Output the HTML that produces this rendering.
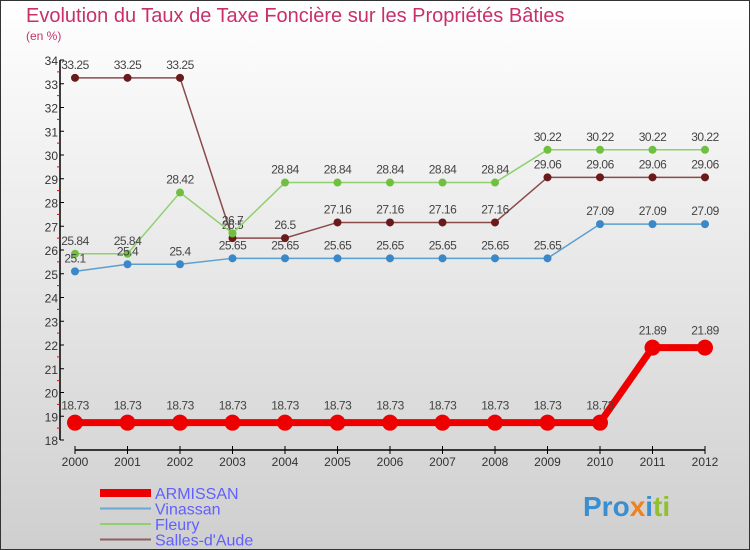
<!DOCTYPE html>
<html><head><meta charset="utf-8"><style>
html,body{margin:0;padding:0}
body{width:750px;height:550px;overflow:hidden;font-family:"Liberation Sans",sans-serif}
svg{display:block}
</style></head><body>
<svg id="c" width="750" height="550" xmlns="http://www.w3.org/2000/svg">
<defs>
<linearGradient id="bg" x1="0" y1="0" x2="0" y2="1"><stop offset="0" stop-color="#ffffff"/><stop offset="1" stop-color="#cfcfcf"/></linearGradient>
</defs>
<rect x="0.5" y="0.5" width="749" height="549" fill="url(#bg)" stroke="#333"/>
<text x="26" y="22" font-size="20" fill="#c8306a">Evolution du Taux de Taxe Foncière sur les Propriétés Bâties</text>
<text x="26" y="40" font-size="12" fill="#c8306a">(en %)</text>
<g id="axes"></g>
<g id="series"></g>
<g id="legend"></g>
<text x="583" y="516" font-size="28" font-weight="bold" fill="#3a8fd0">Pro<tspan fill="#f08020">x</tspan><tspan fill="#3a8fd0">i</tspan><tspan fill="#90c030">ti</tspan></text>
</svg>
<script>
const years = [2000,2001,2002,2003,2004,2005,2006,2007,2008,2009,2010,2011,2012];
const armissan = [18.73,18.73,18.73,18.73,18.73,18.73,18.73,18.73,18.73,18.73,18.73,21.89,21.89];
const vinassan = [25.1,25.4,25.4,25.65,25.65,25.65,25.65,25.65,25.65,25.65,27.09,27.09,27.09];
const fleury = [25.84,25.84,28.42,26.7,28.84,28.84,28.84,28.84,28.84,30.22,30.22,30.22,30.22];
const salles = [33.25,33.25,33.25,26.5,26.5,27.16,27.16,27.16,27.16,29.06,29.06,29.06,29.06];
const yTicks = [18,19,20,21,22,23,24,25,26,27,28,29,30,31,32,33,34];
const seriesNames = ["ARMISSAN","Vinassan","Fleury","Salles-d'Aude"];

const NS="http://www.w3.org/2000/svg";
const X0=75, XSTEP=52.5, Y0=440, YUNIT=23.75, YMIN=18;
const xs=i=>X0+i*XSTEP;
const ys=v=>Y0-(v-YMIN)*YUNIT;
function mk(tag,attrs,parent){const e=document.createElementNS(NS,tag);for(const k in attrs)e.setAttribute(k,attrs[k]);parent.appendChild(e);return e;}
const axes=document.getElementById('axes');
const yAxis=mk('line',{x1:60,y1:ys(34),x2:60,y2:Y0,stroke:'#000','stroke-width':1.5},axes);


yTicks.forEach(t=>{
  const tk=mk('line',{x1:60,x2:64,y1:ys(t),y2:ys(t),stroke:'#000'},axes);
  
  
  if(t<34){const m=mk('line',{x1:57,x2:60,y1:ys(t+0.5),y2:ys(t+0.5),stroke:'#e00'},axes);
    
    }
  const tx=mk('text',{x:58,y:ys(t)+5,'font-size':12,fill:'#333','text-anchor':'end'},axes);
  tx.textContent=t;
  
  
});
const xAxis=mk('line',{x1:xs(0),y1:450,x2:xs(years.length-1),y2:450,stroke:'#000','stroke-width':1.5},axes);


years.forEach((yr,i)=>{
  const tk=mk('line',{x1:xs(i),x2:xs(i),y1:446,y2:454,stroke:'#000'},axes);
  
  
  const tx=mk('text',{x:xs(i),y:466,'font-size':12,fill:'#333','text-anchor':'middle'},axes);
  tx.textContent=yr;
  
  
});
const sg=document.getElementById('series');
const defs=[
 {data:salles,line:'#8a4a4a',pt:'#6a1a1a',w:1.5,r:4,name:'salles-d-aude'},
 {data:fleury,line:'#90d070',pt:'#70c040',w:1.5,r:4,name:'fleury'},
 {data:vinassan,line:'#5aa0d0',pt:'#3a88c8',w:1.5,r:4,name:'vinassan'},
 {data:armissan,line:'#ee0000',pt:'#ee0000',w:7,r:8,name:'armissan'}
];
defs.forEach(d=>{
  const g=mk('g',{},sg);
  
  
  const pl=mk('polyline',{points:d.data.map((v,i)=>xs(i)+','+ys(v)).join(' '),fill:'none',stroke:d.line,'stroke-width':d.w},g);
  
  
  d.data.forEach((v,i)=>{
    const c=mk('circle',{cx:xs(i),cy:ys(v),r:d.r,fill:d.pt},g);
    
    
    const t=mk('text',{x:xs(i),y:ys(v)-(d.r+5),'font-size':12,fill:'#444','text-anchor':'middle','letter-spacing':'-0.5'},g);
    t.textContent=v;
    
    
  });
});
const lg=document.getElementById('legend');
const legendStyles=[{c:'#ee0000',w:8},{c:'#6aa8d0',w:2},{c:'#90d070',w:2},{c:'#906060',w:2}];
seriesNames.forEach((n,i)=>{
  const y=493+i*15.5;
  const l=mk('line',{x1:100,x2:151,y1:y,y2:y,stroke:legendStyles[i].c,'stroke-width':legendStyles[i].w},lg);
  
  
  const t=mk('text',{x:155,y:y+6,'font-size':16,fill:'#6060ff'},lg);
  t.textContent=n;
  
  
});
</script>
</body></html>
